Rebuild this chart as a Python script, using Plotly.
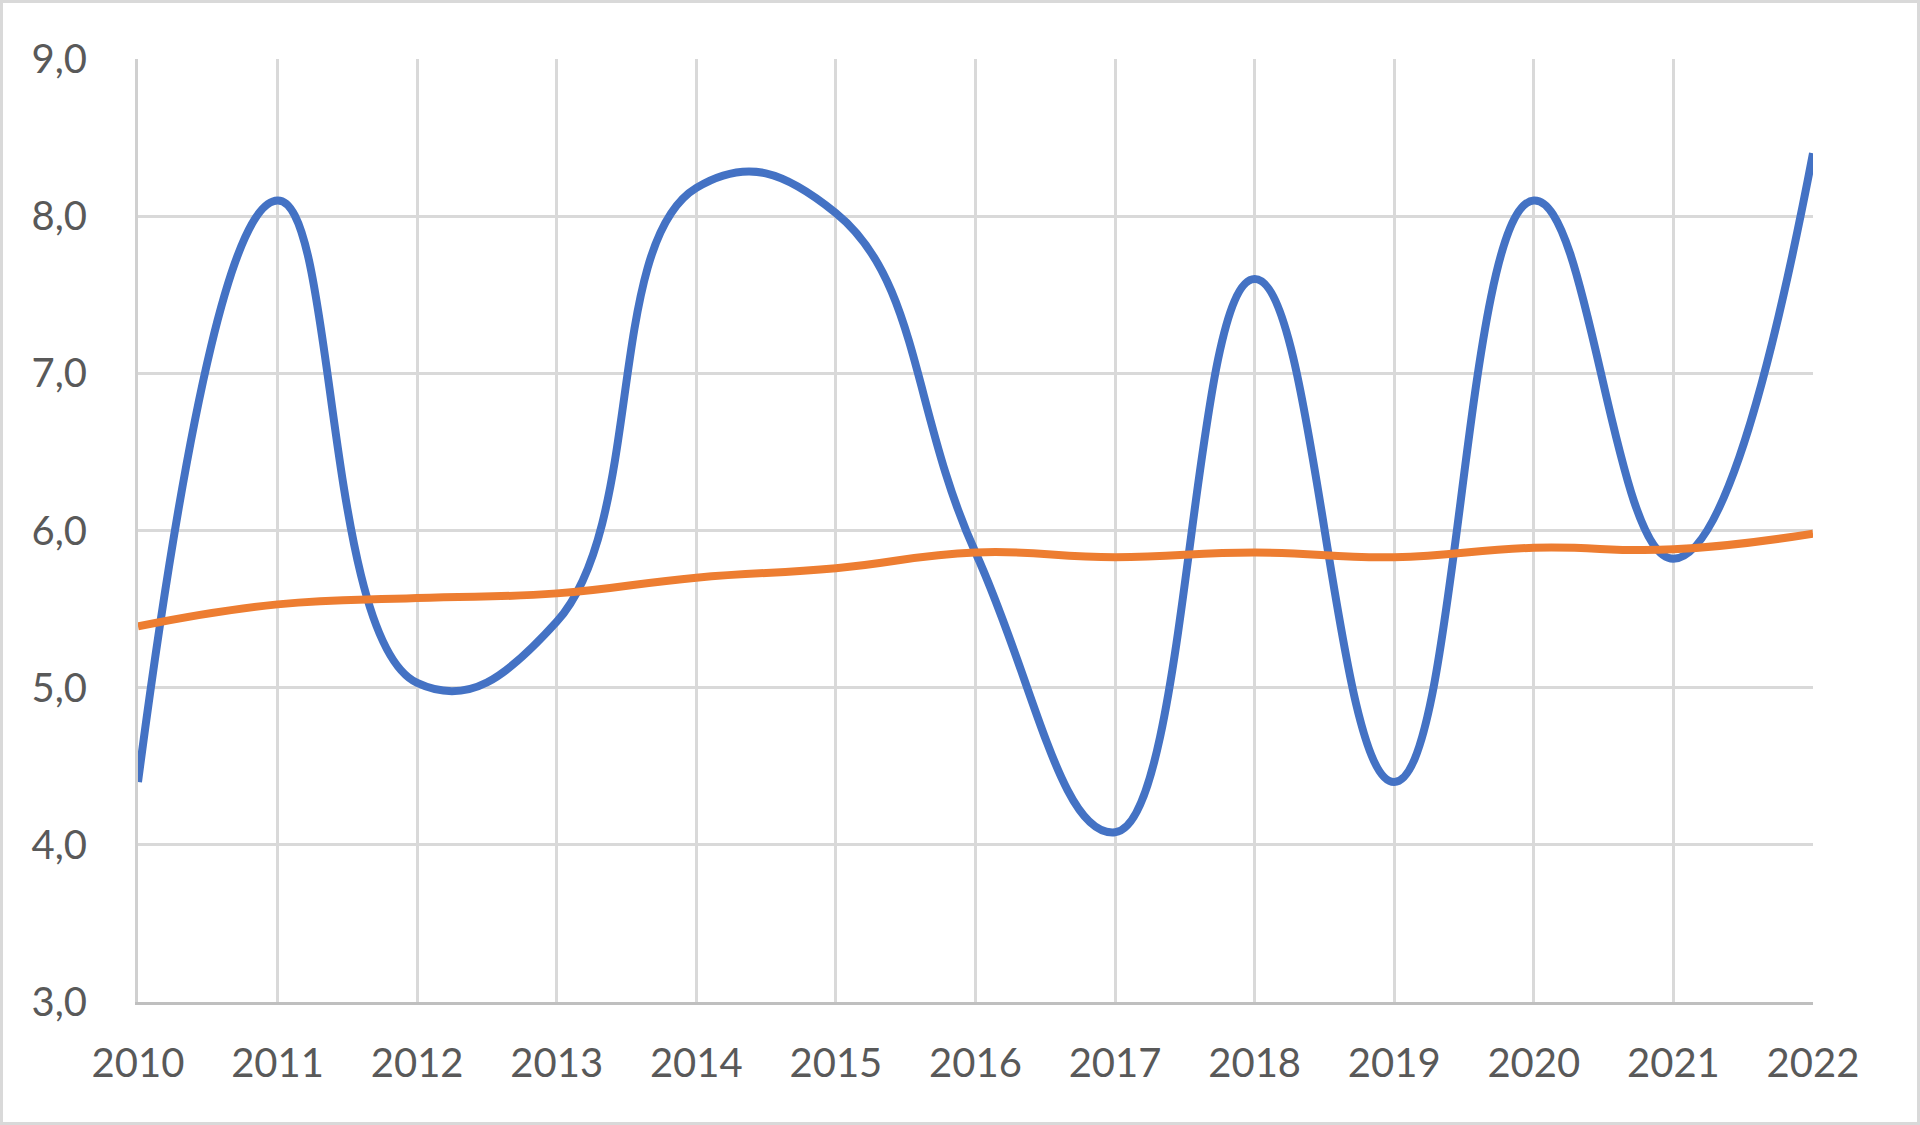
import plotly.graph_objects as go

years = [2010, 2011, 2012, 2013, 2014, 2015, 2016, 2017, 2018, 2019, 2020, 2021, 2022]
series_blue = [4.4, 8.1, 5.03, 5.42, 8.18, 8.02, 5.86, 4.08, 7.6, 4.4, 8.1, 5.82, 8.4]
series_orange = [5.39, 5.53, 5.57, 5.6, 5.7, 5.76, 5.86, 5.83, 5.86, 5.83, 5.89, 5.88, 5.98]
y_ticks = [3, 4, 5, 6, 7, 8, 9]

W, H = 1920, 1125
ML, MR, MT, MB = 138, 107, 59, 123
pw, ph = W - ML - MR, H - MT - MB

fig = go.Figure()
fig.add_trace(go.Scatter(x=years, y=series_blue, mode="lines",
                         line=dict(color="#4472C4", width=8, shape="spline", smoothing=1.3),
                         showlegend=False, cliponaxis=False))
fig.add_trace(go.Scatter(x=years, y=series_orange, mode="lines",
                         line=dict(color="#ED7D31", width=8, shape="spline", smoothing=1.3),
                         showlegend=False, cliponaxis=False))

def px_x(p):
    return (p - ML) / pw

def px_y(p):
    return (H - MB - p) / ph

fig.add_shape(type="rect", xref="paper", yref="paper",
              x0=px_x(1.5), x1=px_x(W - 1.5), y0=px_y(H - 1.5), y1=px_y(1.5),
              line=dict(color="#d9d9d9", width=3), fillcolor="rgba(0,0,0,0)", layer="below")

fig.update_layout(
    width=W, height=H,
    margin=dict(l=ML, r=MR, t=MT, b=MB),
    paper_bgcolor="white", plot_bgcolor="white",
    separators=", ",
    font=dict(family="Lato, 'Open Sans', sans-serif", size=40, color="#595959"),
    xaxis=dict(range=[2010, 2022], tickmode="array", tickvals=years,
               ticktext=[str(y) for y in years],
               showgrid=True, gridcolor="#d9d9d9", gridwidth=3,
               showline=True, linecolor="#bfbfbf", linewidth=3,
               zeroline=False, ticks="", ticklabelstandoff=24),
    yaxis=dict(range=[3, 9], tickmode="array", tickvals=y_ticks,
               tickformat=".1f",
               showgrid=True, gridcolor="#d9d9d9", gridwidth=3,
               showline=True, linecolor="#d0d0d0", linewidth=3,
               zeroline=False, ticks="", ticklabelstandoff=40),
)

fig.write_html("out.html")
